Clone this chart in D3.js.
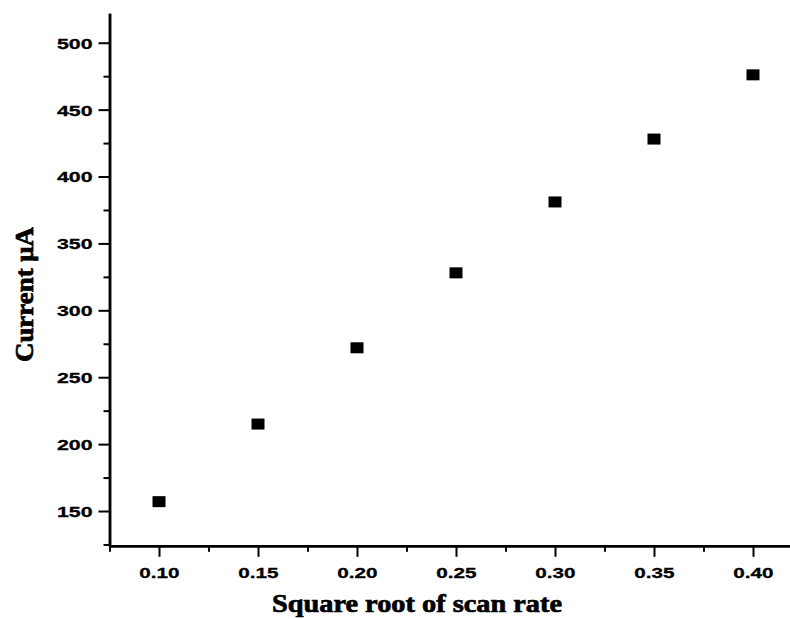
<!DOCTYPE html>
<html>

<head>
    <meta charset="UTF-8">
    <script src="https://d3js.org/d3.v7.min.js"></script>
    <style>
        body {
            margin: 0;
            background-color: #fff;
        }

        .tick-label {
            font-family: 'Liberation Sans', Arial, sans-serif;
            font-size: 15px;
            font-weight: bold;
            fill: #000;
            stroke: #000;
            stroke-width: 0.3px;
        }

        .axis-title {
            font-family: 'Liberation Serif', 'Times New Roman', serif;
            font-size: 25px;
            font-weight: bold;
            fill: #000;
            stroke: #000;
            stroke-width: 0.7px;
        }
    </style>
</head>

<body>
    <svg id="chart" width="790" height="619"></svg>
    <script>
        // data
        var scanRoot = [0.10, 0.15, 0.20, 0.25, 0.30, 0.35, 0.40];
        var current = [157, 215, 272, 328, 381, 428, 476];

        var xTicks = [0.10, 0.15, 0.20, 0.25, 0.30, 0.35, 0.40];
        var xMinor = [0.075, 0.125, 0.175, 0.225, 0.275, 0.325, 0.375];
        var yTicks = [150, 200, 250, 300, 350, 400, 450, 500];
        var yMinor = [125, 175, 225, 275, 325, 375, 425, 475];

        var svg = d3.select("#chart");

        var x = d3.scaleLinear().domain([0.075, 0.42]).range([109.5, 792.6]);
        var y = d3.scaleLinear().domain([124, 522]).range([545.8, 13.3]);

        var axisLeft = 109.5;
        var axisBottom = 545.8;

        // minor ticks first, then the major ones on top
        var gxMinor = svg.append("g")
            .attr("transform", "translate(0," + axisBottom + ")")
            .call(d3.axisBottom(x).tickValues(xMinor).tickSize(6).tickSizeOuter(0).tickFormat(""));
        var gyMinor = svg.append("g")
            .attr("transform", "translate(" + axisLeft + ",0)")
            .call(d3.axisLeft(y).tickValues(yMinor).tickSize(6).tickSizeOuter(0).tickFormat(""));

        var gx = svg.append("g")
            .attr("transform", "translate(0," + axisBottom + ")")
            .call(d3.axisBottom(x).tickValues(xTicks).tickSize(11).tickSizeOuter(0)
                .tickFormat(d3.format(".2f")));
        var gy = svg.append("g")
            .attr("transform", "translate(" + axisLeft + ",0)")
            .call(d3.axisLeft(y).tickValues(yTicks).tickSize(11).tickSizeOuter(0));

        [gxMinor, gyMinor, gx, gy].forEach(function (g) {
            g.selectAll(".tick line").attr("stroke", "#000").attr("stroke-width", 2);
            g.select(".domain").attr("stroke", "#000").attr("stroke-width", 2.5);
        });

        // labels in the picture look stretched sideways
        gx.selectAll(".tick text")
            .attr("class", "tick-label")
            .attr("y", 0)
            .attr("dy", 0)
            .attr("transform", "translate(0,32) scale(1.38,1)");
        gy.selectAll(".tick text")
            .attr("class", "tick-label")
            .attr("x", 0)
            .attr("dy", "0.36em")
            .attr("transform", "translate(-17,0) scale(1.42,1)");

        // square markers
        svg.append("g")
            .selectAll("rect")
            .data(scanRoot)
            .enter()
            .append("rect")
            .attr("x", function (d) { return x(d) - 6.5; })
            .attr("y", function (d, i) { return y(current[i]) - 5.5; })
            .attr("width", 13)
            .attr("height", 11)
            .attr("fill", "#000");

        // axis titles
        svg.append("text")
            .attr("class", "axis-title")
            .attr("x", 272)
            .attr("y", 612)
            .attr("textLength", 290)
            .attr("lengthAdjust", "spacingAndGlyphs")
            .text("Square root of scan rate");

        svg.append("text")
            .attr("class", "axis-title")
            .attr("transform", "translate(33,362) rotate(-90)")
            .attr("textLength", 135)
            .attr("lengthAdjust", "spacingAndGlyphs")
            .text("Current \u03bcA");
    </script>
</body>

</html>
